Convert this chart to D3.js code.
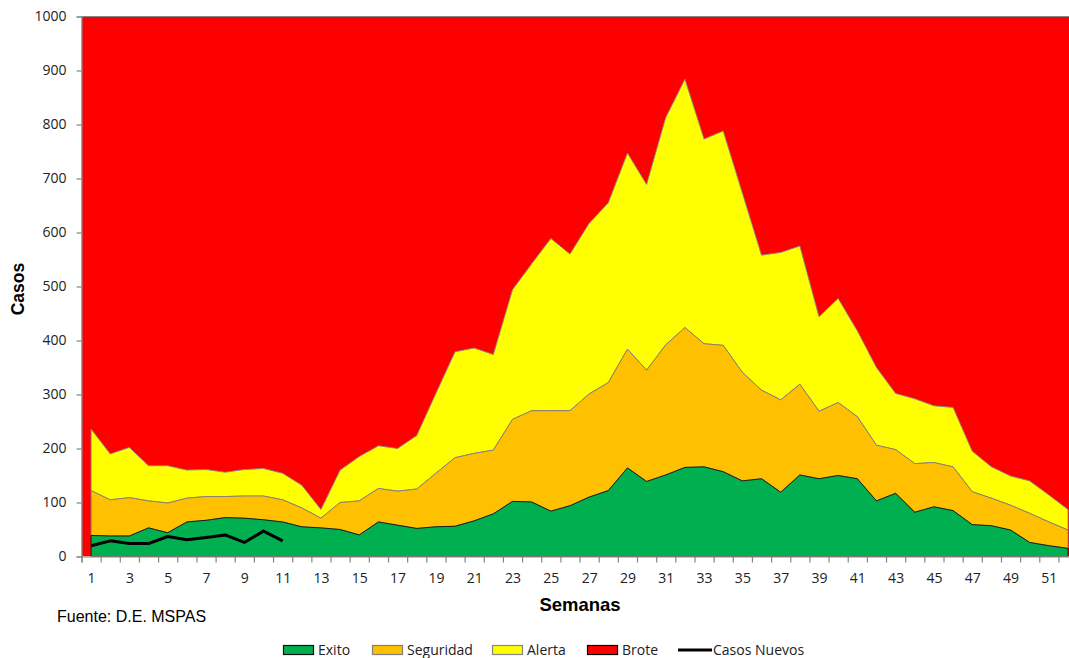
<!DOCTYPE html>
<html>
<head>
<meta charset="utf-8">
<script src="https://cdn.jsdelivr.net/npm/d3@7"></script>
<style>
  body { margin: 0; background: #fff; }
  svg { display: block; }
</style>
</head>
<body>
<script>
// semanas epidemiologicas
var semanas = d3.range(1, 53);
// limite superior de cada zona (corredor endemico)
var exito = [39, 38, 38, 53, 44, 64, 67, 72, 71, 68,
             64, 55, 53, 50, 40, 64, 58, 52, 55, 56,
             66, 79, 102, 101, 84, 94, 110, 122, 164, 139,
             151, 165, 166, 157, 140, 144, 119, 151, 144, 150,
             144, 103, 117, 82, 92, 85, 59, 57, 49, 26,
             20, 15];
var seguridad = [122, 105, 109, 103, 99, 108, 111, 111, 112, 112,
                 105, 90, 71, 100, 103, 126, 121, 125, 154, 183,
                 191, 197, 254, 270, 270, 270, 301, 322, 384, 345,
                 392, 424, 394, 391, 341, 308, 290, 319, 269, 285,
                 259, 206, 198, 172, 174, 166, 120, 108, 95, 80,
                 64, 49];
var alerta = [236, 190, 202, 168, 168, 160, 161, 156, 161, 163,
              154, 132, 87, 160, 185, 205, 200, 224, 302, 379,
              386, 374, 494, 542, 589, 560, 617, 655, 747, 689,
              813, 884, 773, 788, 673, 558, 563, 575, 444, 478,
              418, 350, 302, 292, 279, 276, 195, 166, 149, 140,
              114, 87];
var casosNuevos = [20, 29, 24, 24, 37, 31, 35, 40, 26, 47, 29];
var yTicks = d3.range(0, 1001, 100);
var xLabels = d3.range(1, 53, 2);

var width = 1069,
    height = 658;

var svg = d3.select("body")
    .append("svg")
    .attr("width", width)
    .attr("height", height);

var x = d3.scaleLinear().domain([0.5, 52.5]).range([81.5, 1077.6]);
var y = d3.scaleLinear().domain([0, 1000]).range([556.5, 16.5]);

svg.append("clipPath").attr("id", "plot")
    .append("rect")
    .attr("x", x(0.5)).attr("y", y(1000))
    .attr("width", x(52.5) - x(0.5)).attr("height", y(0) - y(1000));

var g = svg.append("g").attr("clip-path", "url(#plot)");

// fondo de la zona de brote
g.append("rect")
    .attr("x", x(0.5)).attr("y", y(1000))
    .attr("width", x(52.5) - x(0.5)).attr("height", y(0) - y(1000))
    .attr("fill", "#ff0000");

var rows = semanas.map(function(s, i) {
    return {s: s, exito: exito[i], seguridad: seguridad[i], alerta: alerta[i]};
});

function band(lo, hi) {
    return d3.area()
        .x(function(d) { return x(d.s); })
        .y0(function(d) { return y(lo ? d[lo] : 0); })
        .y1(function(d) { return y(hi ? d[hi] : 1000); });
}

// brote, alerta, seguridad, exito (exito al final para que su borde quede encima)
g.append("path").datum(rows).attr("d", band("alerta", null)).attr("fill", "#ff0000");
g.append("path").datum(rows).attr("d", band("seguridad", "alerta"))
    .attr("fill", "#ffff00").attr("stroke", "#868686").attr("stroke-width", 0.9);
g.append("path").datum(rows).attr("d", band("exito", "seguridad"))
    .attr("fill", "#ffc000").attr("stroke", "#7f7f7f").attr("stroke-width", 0.9);
g.append("path").datum(rows).attr("d", band(null, "exito"))
    .attr("fill", "#00b050").attr("stroke", "#111").attr("stroke-width", 0.9);

var casos = d3.line()
    .x(function(d, i) { return x(semanas[i]); })
    .y(function(d) { return y(d); });
g.append("path").datum(casosNuevos)
    .attr("d", casos)
    .attr("fill", "none")
    .attr("stroke", "#000")
    .attr("stroke-width", 3)
    .attr("stroke-linejoin", "round");

// borde superior del area de trazado
svg.append("line")
    .attr("x1", x(0.5)).attr("x2", width)
    .attr("y1", y(1000)).attr("y2", y(1000))
    .attr("stroke", "#868686").attr("stroke-width", 1.2);

// ejes
var yAxis = svg.append("g")
    .attr("transform", "translate(" + x(0.5) + ",0)")
    .call(d3.axisLeft(y).tickValues(yTicks).tickSize(5).tickPadding(10).tickFormat(d3.format("d")));

var xAxis = svg.append("g")
    .attr("transform", "translate(0," + y(0) + ")")
    .call(d3.axisBottom(x).tickValues(d3.range(0.5, 53, 1)).tickSize(6).tickFormat(""));

var xLab = svg.append("g")
    .attr("transform", "translate(0," + y(0) + ")")
    .call(d3.axisBottom(x).tickValues(xLabels).tickSize(0).tickPadding(17));
xLab.select(".domain").remove();

[yAxis, xAxis, xLab].forEach(function(a) {
    a.selectAll(".domain, line").attr("stroke", "#868686").attr("stroke-width", 1.2);
    a.selectAll("text")
        .attr("fill", "#222")
        .style("font-family", "'Open Sans', sans-serif")
        .style("font-size", "14px");
});

// titulos
svg.append("text")
    .attr("transform", "translate(24,289) rotate(-90)")
    .attr("text-anchor", "middle")
    .style("font-family", "'Liberation Sans', Arial, sans-serif")
    .style("font-weight", "bold")
    .style("font-size", "17.5px")
    .text("Casos");

svg.append("text")
    .attr("x", 580).attr("y", 611)
    .attr("text-anchor", "middle")
    .style("font-family", "'Liberation Sans', Arial, sans-serif")
    .style("font-weight", "bold")
    .style("font-size", "18.5px")
    .text("Semanas");

svg.append("text")
    .attr("x", 57).attr("y", 622)
    .style("font-family", "'Liberation Sans', Arial, sans-serif")
    .style("font-size", "16px")
    .text("Fuente: D.E. MSPAS");

// leyenda
var leyenda = [
    {name: "Exito", x: 283, fill: "#00b050", stroke: "#111"},
    {name: "Seguridad", x: 372, fill: "#ffc000", stroke: "#7f7f7f"},
    {name: "Alerta", x: 492, fill: "#ffff00", stroke: "#868686"},
    {name: "Brote", x: 587, fill: "#ff0000", stroke: "#000"}
];
var lg = svg.append("g");
lg.selectAll("rect").data(leyenda).enter().append("rect")
    .attr("x", function(d) { return d.x + 0.5; })
    .attr("y", 645.5)
    .attr("width", 30).attr("height", 9)
    .attr("fill", function(d) { return d.fill; })
    .attr("stroke", function(d) { return d.stroke; })
    .attr("stroke-width", 1.2);
lg.selectAll("text.item").data(leyenda).enter().append("text")
    .attr("class", "item")
    .attr("x", function(d) { return d.x + 35; })
    .attr("y", 655)
    .style("font-family", "'Open Sans', sans-serif")
    .style("font-size", "14px")
    .attr("fill", "#222")
    .text(function(d) { return d.name; });
lg.append("line")
    .attr("x1", 678).attr("x2", 712)
    .attr("y1", 650).attr("y2", 650)
    .attr("stroke", "#000").attr("stroke-width", 3);
lg.append("text")
    .attr("x", 713).attr("y", 655)
    .style("font-family", "'Open Sans', sans-serif")
    .style("font-size", "14px")
    .attr("fill", "#222")
    .text("Casos Nuevos");
</script>
</body>
</html>
